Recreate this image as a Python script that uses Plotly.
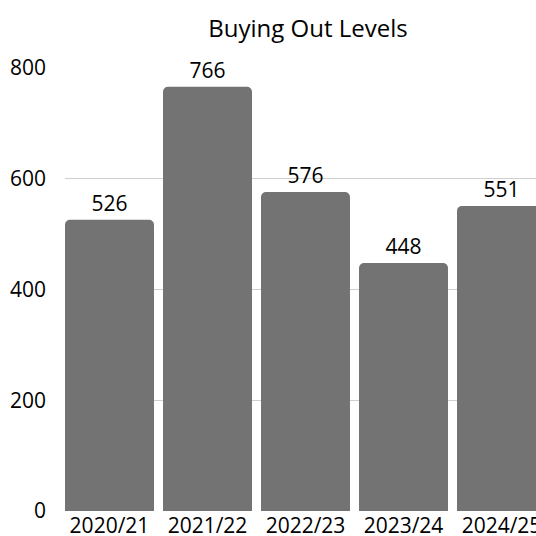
import plotly.graph_objects as go

categories = ["2020/21", "2021/22", "2022/23", "2023/24", "2024/25"]
values = [526, 766, 576, 448, 551]
y_ticks = [0, 200, 400, 600, 800]

FONT = "Open Sans"

fig = go.Figure(
    go.Bar(
        x=categories,
        y=values,
        text=[str(v) for v in values],
        textposition="outside",
        cliponaxis=False,
        marker=dict(color="#737373", line=dict(width=0)),
        textfont=dict(family=FONT, size=21, color="#000000"),
    )
)

fig.update_layout(
    width=536,
    height=536,
    margin=dict(l=65, r=0, t=68, b=25, pad=0, autoexpand=False),
    paper_bgcolor="white",
    plot_bgcolor="white",
    bargap=0.092,
    barcornerradius=5,
    showlegend=False,
    title=dict(
        text="Buying Out Levels",
        x=308 / 536,
        xref="container",
        xanchor="center",
        y=1 - 29 / 536,
        yref="container",
        yanchor="middle",
        font=dict(family=FONT, size=24, color="#000000"),
    ),
    font=dict(family=FONT, size=21, color="#000000"),
)

fig.update_xaxes(
    range=[-0.454, 4.352],
    automargin=False,
    showgrid=False,
    showline=False,
    ticks="",
    tickfont=dict(family=FONT, size=21, color="#000000"),
    ticklabelstandoff=0,
)
fig.update_yaxes(
    range=[0, 800],
    automargin=False,
    tickvals=y_ticks,
    ticktext=[str(t) for t in y_ticks],
    showgrid=True,
    gridcolor="#cfcfcf",
    gridwidth=1,
    zeroline=False,
    showline=False,
    ticks="",
    tickfont=dict(family=FONT, size=21, color="#000000"),
    ticklabelstandoff=18,
)

fig.write_html(
    "out.html",
    config={"displayModeBar": False},
    post_script="document.body.style.margin='0';document.body.style.overflow='hidden';",
)
